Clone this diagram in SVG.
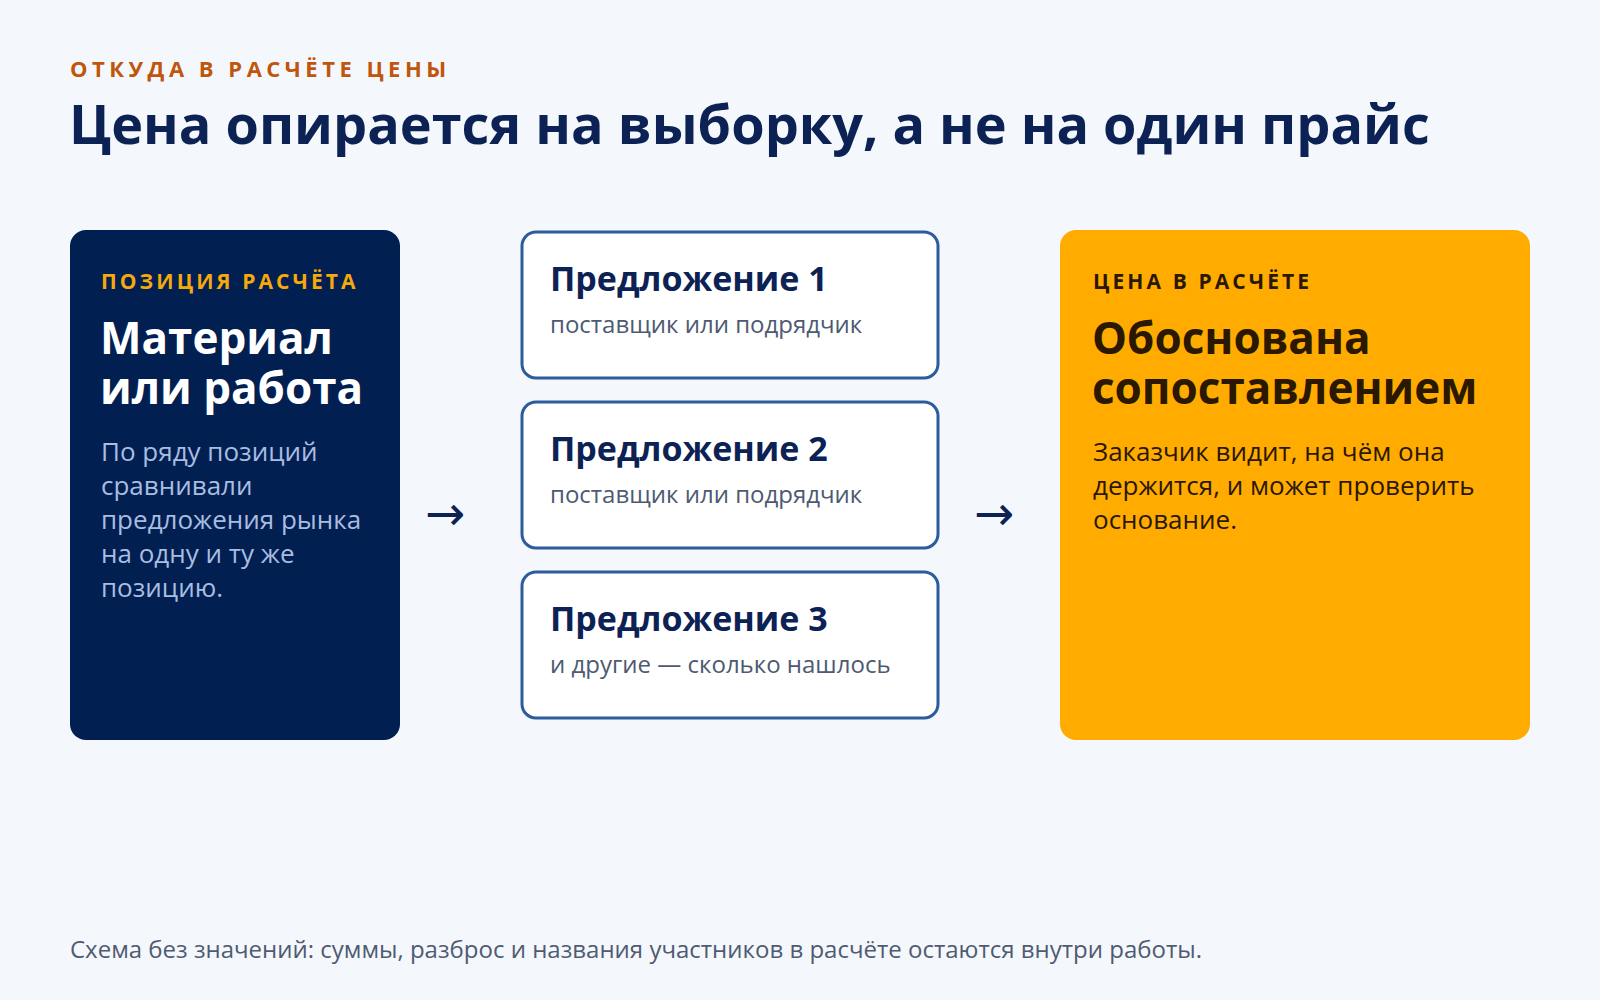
<svg xmlns="http://www.w3.org/2000/svg" width="1600" height="1000" viewBox="0 0 1600 1000">
<style>
text{font-family:"Open Sans","Noto Sans","DejaVu Sans",sans-serif}
.eyebrow{font-size:22px;font-weight:700;letter-spacing:4.5px;fill:#c0550c}
.title{font-size:54px;font-weight:700;fill:#0c2254}
.lab{font-size:21px;font-weight:700;letter-spacing:3.1px}
.big{font-size:44px;font-weight:700}
.body{font-size:26px}
.opt{fill:#ffffff;stroke:#2d5c9c;stroke-width:3}
.optt{font-size:34px;font-weight:700;fill:#0c2254}
.opts{font-size:24px;fill:#4d5a72}
.arr{font-size:48px;fill:#0c2254}
.foot{font-size:24px;fill:#4f5b72}
</style>
<rect width="1600" height="1000" fill="#f4f7fb"/>
<text class="eyebrow" x="70" y="77">ОТКУДА В РАСЧЁТЕ ЦЕНЫ</text>
<text class="title" x="69" y="144">Цена опирается на выборку, а не на один прайс</text>

<g id="position">
<rect x="70" y="230" width="330" height="510" rx="16" fill="#021f52"/>
<text class="lab" x="101" y="289" fill="#f5a90a">ПОЗИЦИЯ РАСЧЁТА</text>
<text class="big" x="100" y="354" fill="#ffffff">Материал</text>
<text class="big" x="100" y="404" fill="#ffffff">или работа</text>
<text class="body" x="101" y="461" fill="#a8bde0">По ряду позиций</text>
<text class="body" x="101" y="495" fill="#a8bde0">сравнивали</text>
<text class="body" x="101" y="529" fill="#a8bde0">предложения рынка</text>
<text class="body" x="101" y="563" fill="#a8bde0">на одну и ту же</text>
<text class="body" x="101" y="597" fill="#a8bde0">позицию.</text>
</g>

<g id="offer1">
<rect class="opt" x="522" y="232" width="416" height="146" rx="14"/>
<text class="optt" x="550" y="291">Предложение 1</text>
<text class="opts" x="550" y="333">поставщик или подрядчик</text>
</g>
<g id="offer2">
<rect class="opt" x="522" y="402" width="416" height="146" rx="14"/>
<text class="optt" x="550" y="461">Предложение 2</text>
<text class="opts" x="550" y="503">поставщик или подрядчик</text>
</g>
<g id="offer3">
<rect class="opt" x="522" y="572" width="416" height="146" rx="14"/>
<text class="optt" x="550" y="631">Предложение 3</text>
<text class="opts" x="550" y="673">и другие — сколько нашлось</text>
</g>

<g id="price">
<rect x="1060" y="230" width="470" height="510" rx="16" fill="#ffab00"/>
<text class="lab" x="1093" y="289" fill="#2a1800">ЦЕНА В РАСЧЁТЕ</text>
<text class="big" x="1092" y="354" fill="#2a1800">Обоснована</text>
<text class="big" x="1092" y="404" fill="#2a1800">сопоставлением</text>
<text class="body" x="1093" y="461" fill="#2a1800">Заказчик видит, на чём она</text>
<text class="body" x="1093" y="495" fill="#2a1800">держится, и может проверить</text>
<text class="body" x="1093" y="529" fill="#2a1800">основание.</text>
</g>

<g id="connectors">
<text class="arr" x="445" y="530" text-anchor="middle">→</text>
<text class="arr" x="994" y="530" text-anchor="middle">→</text>
</g>

<text class="foot" x="70" y="958">Схема без значений: суммы, разброс и названия участников в расчёте остаются внутри работы.</text>
</svg>
